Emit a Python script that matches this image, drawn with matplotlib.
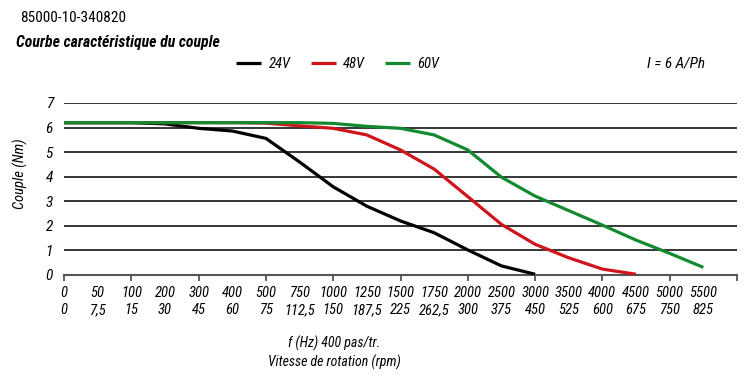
import numpy as np
import matplotlib
matplotlib.use('Agg')
import matplotlib.pyplot as plt

plt.rcParams['font.family'] = ['Liberation Sans Narrow', 'Roboto Condensed', 'Open Sans Condensed',
                               'DejaVu Sans Condensed', 'Liberation Sans', 'DejaVu Sans']

# axis categories (frequency in Hz, 400 steps/rev) and matching speed in rpm
hz_labels = ['0', '50', '100', '200', '300', '400', '500', '750', '1000', '1250',
             '1500', '1750', '2000', '2500', '3000', '3500', '4000', '4500', '5000', '5500']
rpm_labels = ['0', '7,5', '15', '30', '45', '60', '75', '112,5', '150', '187,5',
              '225', '262,5', '300', '375', '450', '525', '600', '675', '750', '825']

# torque (Nm) read per category, curves stop where torque hits ~0
torque_24v = [6.2, 6.2, 6.2, 6.15, 5.97, 5.86, 5.56, 4.6, 3.59, 2.8, 2.2, 1.72, 1.02, 0.37, 0.03]
torque_48v = [6.2, 6.2, 6.2, 6.2, 6.2, 6.2, 6.18, 6.07, 5.97, 5.7, 5.09, 4.31, 3.19, 2.06, 1.25,
              0.7, 0.24, 0.03]
torque_60v = [6.2, 6.2, 6.2, 6.2, 6.2, 6.2, 6.2, 6.2, 6.17, 6.05, 5.97, 5.7, 5.09, 3.98, 3.21,
              2.62, 2.03, 1.42, 0.88, 0.31]

series = [('24V', torque_24v, '#000000'),
          ('48V', torque_48v, '#d0141c'),
          ('60V', torque_60v, '#138a30')]

W, H = 750, 386
fig = plt.figure(figsize=(W / 100, H / 100), dpi=100)
ax = fig.add_axes([64 / W, 1 - 275 / H, (737 - 64) / W, (275 - 103) / H])

for y in range(1, 8):
    ax.axhline(y, color='black', lw=1.1, zorder=1)

handles = []
for name, vals, col in series:
    h, = ax.plot(np.arange(len(vals)), vals, color=col, lw=2.3, zorder=3,
                 solid_capstyle='butt', label=name)
    handles.append(h)

ax.set_xlim(0, 20)
ax.set_ylim(0, 7)
for s in ['left', 'top', 'right']:
    ax.spines[s].set_visible(False)
ax.spines['bottom'].set_color('#555555')
ax.spines['bottom'].set_linewidth(1.5)

# labels on every category, tick marks only on every second one
ax.xaxis.remove_overlapping_locs = False
ax.set_xticks(np.arange(len(hz_labels)))
ax.set_xticklabels([f'{a}\n{b}' for a, b in zip(hz_labels, rpm_labels)],
                   fontsize=10.5, style='italic', linespacing=1.3)
ax.tick_params(axis='x', which='major', length=0, pad=8)
ax.set_xticks(np.arange(0, 21, 2), minor=True)
ax.tick_params(axis='x', which='minor', length=4, width=1.3, color='#555555', direction='out')

ax.set_yticks(range(8))
ax.set_yticklabels([str(i) for i in range(8)], fontsize=11, style='italic')
ax.tick_params(axis='y', length=0, pad=8)

fig.text(20 / W, 1 - 18 / H, '85000-10-340820', fontsize=11, va='center', ha='left')
fig.text(16 / W, 1 - 43 / H, 'Courbe caractéristique du couple', fontsize=11.3,
         fontweight='bold', style='italic', va='center', ha='left')
fig.text(647 / W, 1 - 64 / H, 'I = 6 A/Ph', fontsize=11, style='italic', va='center', ha='left')

fig.legend(handles=handles, loc='center', bbox_to_anchor=(338 / W, 1 - 64 / H), ncol=3,
           frameon=False, handlelength=1.7, handletextpad=0.5, columnspacing=1.4,
           prop={'style': 'italic', 'size': 10.5})

fig.text(20 / W, 1 - 174 / H, 'Couple (Nm)', rotation=90, fontsize=10.5, style='italic',
         va='center', ha='center')
fig.text(334 / W, 1 - 343 / H, 'f (Hz) 400 pas/tr.', fontsize=10, style='italic',
         va='center', ha='center')
fig.text(334 / W, 1 - 362 / H, 'Vitesse de rotation (rpm)', fontsize=10, style='italic',
         va='center', ha='center')

fig.savefig('out.png', dpi=100)
